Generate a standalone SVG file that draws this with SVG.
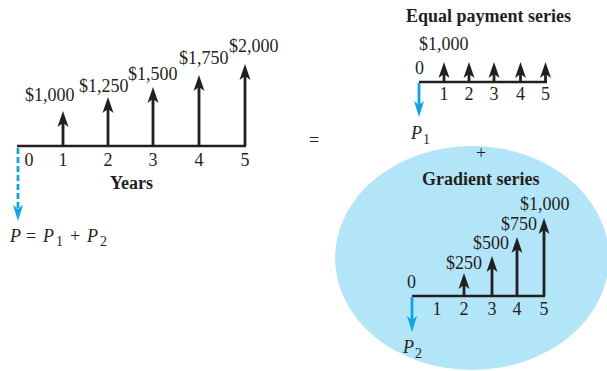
<svg xmlns="http://www.w3.org/2000/svg" xmlns:xlink="http://www.w3.org/1999/xlink" width="607" height="371" viewBox="0 0 607 371">
<style>
text{font-family:"Liberation Serif","Times New Roman",serif;font-size:18px;fill:#231f20}
.b{font-weight:bold;font-size:18px}
.c{text-anchor:middle}
.i{font-style:italic}
.s{font-size:14px}
.axis{stroke:#231f20;stroke-width:2.6;fill:none}
.stem{stroke:#231f20;stroke-width:2.8;fill:none}
.blue{stroke:#12a3e3;stroke-width:2.8;fill:none}
.hk{fill:#231f20}
.hb{fill:#12a3e3}
</style>
<defs>
<path id="up" d="M0,0 L5.5,16 L0,12 L-5.5,16 Z"/>
<path id="dn" d="M0,0 L5,-16 L0,-12 L-5,-16 Z"/>
</defs>
<ellipse id="gradient-bg" cx="472" cy="258" rx="137" ry="112" fill="#b3e5f8"/>
<g id="connectors">
<line class="axis" x1="17" y1="146" x2="246" y2="146"/>
<line class="stem" x1="63" y1="146" x2="63" y2="122"/>
<line class="stem" x1="108" y1="146" x2="108" y2="108"/>
<line class="stem" x1="153" y1="146" x2="153" y2="98"/>
<line class="stem" x1="199" y1="146" x2="199" y2="86"/>
<line class="stem" x1="245" y1="146" x2="245" y2="75"/>
<use href="#up" class="hk" x="63" y="111"/>
<use href="#up" class="hk" x="108" y="97"/>
<use href="#up" class="hk" x="153" y="87"/>
<use href="#up" class="hk" x="199" y="75"/>
<use href="#up" class="hk" x="245" y="64"/>
<line class="blue" x1="18" y1="148" x2="18" y2="210" stroke-dasharray="6,3"/>
<use href="#dn" class="hb" x="18" y="221"/>
<line class="axis" x1="419" y1="82" x2="547" y2="82"/>
<line class="stem" x1="444" y1="82" x2="444" y2="72"/>
<line class="stem" x1="469" y1="82" x2="469" y2="72"/>
<line class="stem" x1="494" y1="82" x2="494" y2="72"/>
<line class="stem" x1="520.5" y1="82" x2="520.5" y2="72"/>
<line class="stem" x1="545.5" y1="82" x2="545.5" y2="72"/>
<use href="#up" class="hk" x="444" y="62"/>
<use href="#up" class="hk" x="469" y="62"/>
<use href="#up" class="hk" x="494" y="62"/>
<use href="#up" class="hk" x="520.5" y="62"/>
<use href="#up" class="hk" x="545.5" y="62"/>
<line class="blue" x1="419" y1="83" x2="419" y2="106"/>
<use href="#dn" class="hb" x="419" y="117"/>
<line class="axis" x1="412" y1="296" x2="545" y2="296"/>
<line class="stem" x1="464" y1="296" x2="464" y2="284"/>
<line class="stem" x1="492" y1="296" x2="492" y2="267"/>
<line class="stem" x1="517" y1="296" x2="517" y2="248"/>
<line class="stem" x1="544" y1="296" x2="544" y2="229"/>
<use href="#up" class="hk" x="464" y="273"/>
<use href="#up" class="hk" x="492" y="256"/>
<use href="#up" class="hk" x="517" y="237"/>
<use href="#up" class="hk" x="544" y="218"/>
<line class="blue" x1="412" y1="297" x2="412" y2="321"/>
<use href="#dn" class="hb" x="412" y="332"/>
</g>
<g id="cash-flow">
<text x="25" y="101">$1,000</text>
<text x="79" y="92">$1,250</text>
<text x="128" y="80">$1,500</text>
<text x="179" y="64">$1,750</text>
<text x="229" y="52">$2,000</text>
<text class="c" x="29" y="166">0</text>
<text class="c" x="63" y="166">1</text>
<text class="c" x="108" y="166">2</text>
<text class="c" x="153" y="166">3</text>
<text class="c" x="199" y="166">4</text>
<text class="c" x="245" y="166">5</text>
<text class="b c" x="131.5" y="189">Years</text>
<text y="242" font-size="19"><tspan class="i" x="10">P</tspan><tspan x="26">=</tspan><tspan class="i" x="43">P</tspan><tspan class="s" dx="2" dy="4">1</tspan><tspan x="70" dy="-4">+</tspan><tspan class="i" x="87">P</tspan><tspan class="s" dx="2" dy="4">2</tspan></text>
</g>
<g id="equals"><text class="c" x="314" y="146">=</text></g>
<g id="equal-payment-series">
<text class="b" x="406" y="22">Equal payment series</text>
<text x="419" y="50">$1,000</text>
<text x="415" y="74">0</text>
<text class="c" x="444" y="100">1</text>
<text class="c" x="469" y="100">2</text>
<text class="c" x="494" y="100">3</text>
<text class="c" x="520.5" y="100">4</text>
<text class="c" x="545.5" y="100">5</text>
<text x="411" y="139" font-size="19"><tspan class="i">P</tspan><tspan class="s" dx="1" dy="5">1</tspan></text>
</g>
<g id="plus"><text class="c" x="481" y="159">+</text></g>
<g id="gradient-series">
<text class="b" x="422" y="185">Gradient series</text>
<text x="520" y="210">$1,000</text>
<text x="501" y="230">$750</text>
<text x="473" y="249">$500</text>
<text x="446" y="269">$250</text>
<text x="407" y="288">0</text>
<text class="c" x="437" y="315">1</text>
<text class="c" x="464" y="315">2</text>
<text class="c" x="492" y="315">3</text>
<text class="c" x="517" y="315">4</text>
<text class="c" x="544" y="315">5</text>
<text x="403" y="353" font-size="19"><tspan class="i">P</tspan><tspan class="s" dx="1" dy="5">2</tspan></text>
</g>
</svg>
